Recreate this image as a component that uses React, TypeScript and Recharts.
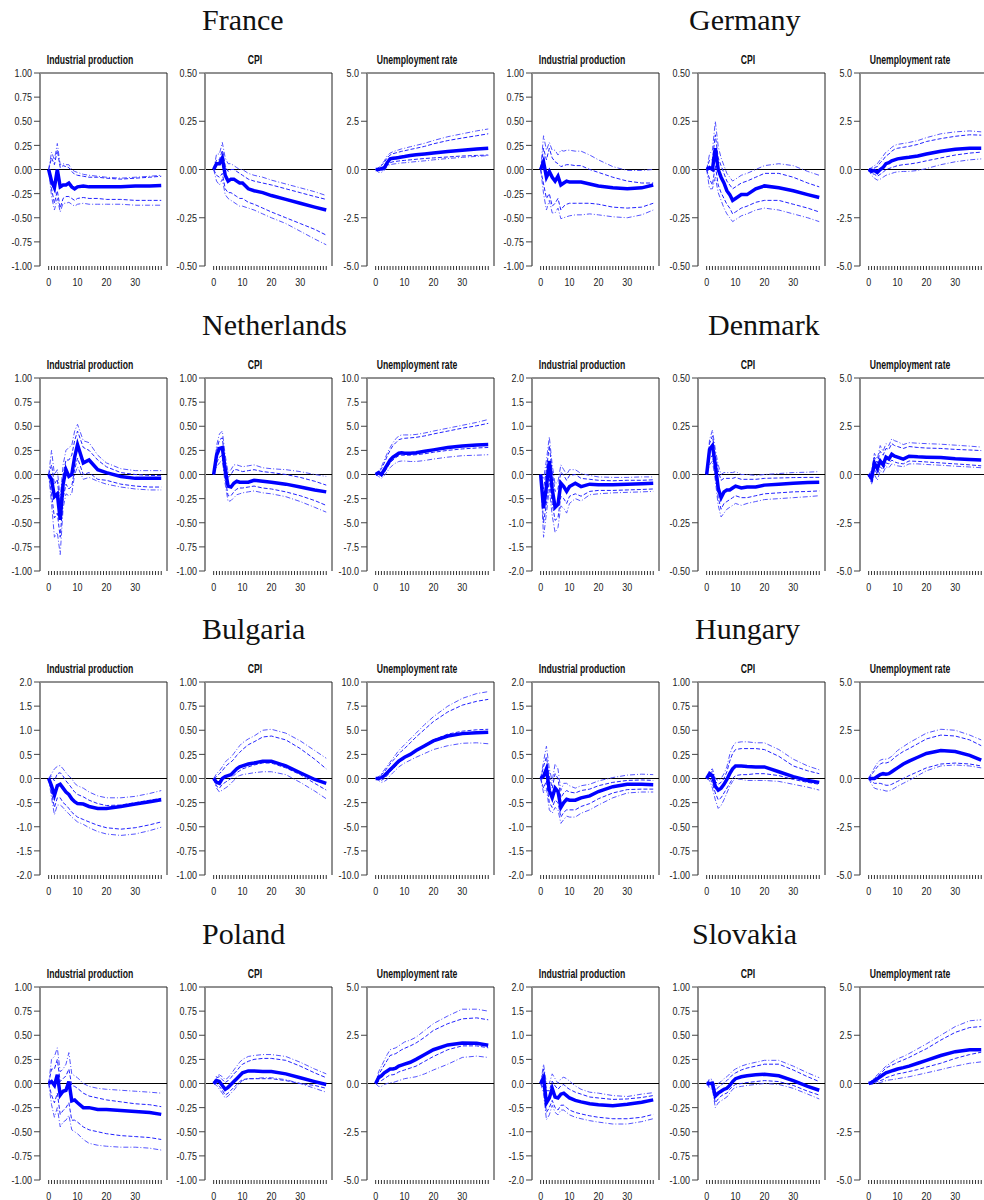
import { LineChart, Line, XAxis, YAxis, ReferenceLine } from "recharts";

const H = [0, 1, 2, 3, 4, 5, 6, 7, 8, 9, 10, 12, 14, 17, 20, 25, 30, 35, 39];
const X_TICKS = [0, 1, 2, 3, 4, 5, 6, 7, 8, 9, 10, 11, 12, 13, 14, 15, 16, 17, 18, 19, 20, 21, 22, 23, 24, 25, 26, 27, 28, 29, 30, 31, 32, 33, 34, 35, 36, 37, 38, 39];

// y tick sets
const T1 = [-1, -0.75, -0.5, -0.25, 0, 0.25, 0.5, 0.75, 1];
const T05 = [-0.5, -0.25, 0, 0.25, 0.5];
const T2 = [-2, -1.5, -1, -0.5, 0, 0.5, 1, 1.5, 2];
const T5 = [-5, -2.5, 0, 2.5, 5];
const T10 = [-10, -7.5, -5, -2.5, 0, 2.5, 5, 7.5, 10];

const PANEL_TITLES = ["Industrial production", "CPI", "Unemployment rate"];

// mid = point response, dU/dL = dashed band, oU/oL = dash-dot band
const FR_IP = {
  mid: [0, -0.12, -0.19, 0.0, -0.18, -0.16, -0.16, -0.14, -0.18, -0.2, -0.18, -0.17, -0.18, -0.18, -0.18, -0.18, -0.17, -0.17, -0.165],
  dU: [0, 0.12, 0.05, 0.2, 0.02, 0.04, 0.03, 0.02, -0.02, -0.05, -0.06, -0.07, -0.08, -0.08, -0.09, -0.1, -0.09, -0.08, -0.07],
  oU: [0, 0.18, 0.1, 0.27, 0.05, 0.06, 0.05, 0.05, 0.0, -0.02, -0.03, -0.05, -0.06, -0.07, -0.08, -0.09, -0.08, -0.07, -0.06],
  dL: [0, -0.2, -0.35, -0.22, -0.4, -0.3, -0.28, -0.28, -0.3, -0.32, -0.3, -0.29, -0.3, -0.3, -0.31, -0.31, -0.32, -0.32, -0.32],
  oL: [0, -0.28, -0.42, -0.3, -0.44, -0.35, -0.35, -0.34, -0.36, -0.38, -0.36, -0.35, -0.36, -0.36, -0.36, -0.36, -0.37, -0.37, -0.37],
};
const FR_CPI = {
  mid: [0, 0.03, 0.03, 0.06, -0.03, -0.06, -0.05, -0.05, -0.06, -0.07, -0.07, -0.1, -0.11, -0.12, -0.135, -0.155, -0.175, -0.195, -0.21],
  dU: [0, 0.05, 0.05, 0.1, 0.02, -0.01, 0.0, 0.0, -0.01, -0.02, -0.03, -0.05, -0.06, -0.07, -0.08, -0.1, -0.12, -0.14, -0.155],
  oU: [0, 0.08, 0.08, 0.14, 0.06, 0.03, 0.03, 0.02, 0.01, 0.0, 0.0, -0.02, -0.03, -0.04, -0.055, -0.075, -0.095, -0.115, -0.135],
  dL: [0, -0.03, -0.04, -0.02, -0.1, -0.12, -0.12, -0.13, -0.14, -0.15, -0.15, -0.17, -0.18, -0.2, -0.22, -0.25, -0.28, -0.31, -0.34],
  oL: [0, -0.06, -0.08, -0.05, -0.13, -0.15, -0.16, -0.17, -0.18, -0.19, -0.19, -0.2, -0.21, -0.23, -0.25, -0.28, -0.32, -0.36, -0.39],
};
const FR_UR = {
  mid: [0, 0.0, 0.05, 0.1, 0.35, 0.55, 0.58, 0.6, 0.62, 0.65, 0.67, 0.72, 0.76, 0.8, 0.85, 0.93, 1.0, 1.06, 1.1],
  dU: [0, 0.08, 0.2, 0.38, 0.6, 0.75, 0.82, 0.86, 0.9, 0.94, 0.97, 1.04, 1.1, 1.2, 1.33, 1.5, 1.63, 1.75, 1.85],
  oU: [0, 0.1, 0.25, 0.45, 0.7, 0.85, 0.92, 0.97, 1.02, 1.07, 1.1, 1.18, 1.25, 1.36, 1.5, 1.7, 1.85, 2.0, 2.1],
  dL: [0, -0.05, -0.05, 0.0, 0.2, 0.35, 0.4, 0.42, 0.44, 0.46, 0.47, 0.5, 0.53, 0.57, 0.6, 0.65, 0.7, 0.73, 0.75],
  oL: [0, -0.15, -0.15, -0.05, 0.15, 0.25, 0.28, 0.3, 0.32, 0.34, 0.35, 0.38, 0.41, 0.45, 0.5, 0.57, 0.63, 0.68, 0.72],
};
const DE_IP = {
  mid: [0, 0.08, -0.08, -0.02, -0.08, -0.12, -0.07, -0.16, -0.14, -0.12, -0.13, -0.13, -0.13, -0.15, -0.17, -0.19, -0.2, -0.19, -0.16],
  dU: [0, 0.22, 0.1, 0.22, 0.12, 0.08, 0.06, 0.03, 0.04, 0.05, 0.05, 0.04, 0.04, 0.0, -0.03, -0.08, -0.12, -0.14, -0.14],
  oU: [0, 0.35, 0.2, 0.28, 0.2, 0.2, 0.15, 0.2, 0.19, 0.2, 0.2, 0.19, 0.19, 0.15, 0.1, 0.03, -0.01, -0.01, 0.0],
  dL: [0, -0.15, -0.3, -0.25, -0.38, -0.35, -0.3, -0.42, -0.38, -0.36, -0.35, -0.35, -0.35, -0.35, -0.36, -0.39, -0.4, -0.39, -0.35],
  oL: [0, -0.25, -0.42, -0.32, -0.45, -0.45, -0.4, -0.51, -0.5, -0.49, -0.48, -0.47, -0.47, -0.46, -0.47, -0.49, -0.5, -0.47, -0.42],
};
const DE_CPI = {
  mid: [0, 0.01, 0.0, 0.11, 0.0, -0.04, -0.07, -0.11, -0.13, -0.16, -0.15, -0.13, -0.13, -0.1, -0.085, -0.095, -0.11, -0.13, -0.145],
  dU: [0, 0.05, 0.05, 0.18, 0.06, 0.02, -0.02, -0.06, -0.08, -0.1, -0.09, -0.07, -0.06, -0.04, -0.02, -0.02, -0.04, -0.07, -0.09],
  oU: [0, 0.08, 0.1, 0.25, 0.12, 0.06, 0.02, -0.02, -0.04, -0.06, -0.05, -0.03, -0.02, 0.0, 0.02, 0.03, 0.02, -0.01, -0.03],
  dL: [0, -0.05, -0.08, 0.02, -0.08, -0.12, -0.15, -0.18, -0.2, -0.23, -0.22, -0.2, -0.19, -0.17, -0.16, -0.16, -0.18, -0.2, -0.22],
  oL: [0, -0.1, -0.1, -0.04, -0.12, -0.16, -0.2, -0.23, -0.25, -0.27, -0.26, -0.24, -0.23, -0.21, -0.2, -0.21, -0.23, -0.25, -0.27],
};
const DE_UR = {
  mid: [0, -0.1, -0.05, -0.15, 0.0, 0.1, 0.3, 0.35, 0.45, 0.5, 0.55, 0.6, 0.63, 0.7, 0.8, 0.95, 1.05, 1.1, 1.1],
  dU: [0, 0.05, 0.1, 0.15, 0.35, 0.5, 0.7, 0.8, 0.95, 1.05, 1.1, 1.15, 1.2, 1.3, 1.45, 1.6, 1.72, 1.8, 1.78],
  oU: [0, 0.1, 0.2, 0.3, 0.5, 0.7, 0.9, 1.0, 1.15, 1.25, 1.3, 1.35, 1.4, 1.5, 1.65, 1.85, 1.95, 2.0, 1.95],
  dL: [0, -0.2, -0.25, -0.35, -0.25, -0.15, 0.0, 0.05, 0.1, 0.15, 0.2, 0.25, 0.28, 0.35, 0.45, 0.6, 0.75, 0.85, 0.9],
  oL: [0, -0.3, -0.45, -0.55, -0.5, -0.4, -0.3, -0.25, -0.2, -0.15, -0.12, -0.1, -0.1, -0.05, 0.05, 0.25, 0.4, 0.5, 0.55],
};
const NL_IP = {
  mid: [0, -0.05, -0.23, -0.2, -0.47, -0.1, 0.05, -0.02, 0.0, 0.18, 0.31, 0.12, 0.15, 0.05, 0.02, -0.02, -0.04, -0.04, -0.04],
  dU: [0, 0.1, -0.1, -0.05, -0.35, 0.0, 0.15, 0.15, 0.2, 0.35, 0.45, 0.28, 0.25, 0.15, 0.08, 0.02, 0.0, -0.01, -0.01],
  oU: [0, 0.25, 0.0, 0.05, -0.25, 0.1, 0.25, 0.28, 0.3, 0.45, 0.52, 0.35, 0.33, 0.2, 0.12, 0.06, 0.04, 0.04, 0.04],
  dL: [0, -0.2, -0.45, -0.4, -0.65, -0.25, -0.1, -0.15, -0.12, 0.05, 0.17, 0.0, 0.02, -0.05, -0.06, -0.1, -0.12, -0.13, -0.13],
  oL: [0, -0.3, -0.65, -0.6, -0.83, -0.35, -0.2, -0.22, -0.2, 0.0, 0.08, -0.05, -0.03, -0.07, -0.1, -0.13, -0.15, -0.16, -0.16],
};
const NL_CPI = {
  mid: [0, 0.2, 0.27, 0.28, 0.05, -0.12, -0.13, -0.09, -0.07, -0.08, -0.08, -0.08, -0.06, -0.07, -0.08, -0.1, -0.13, -0.16, -0.18],
  dU: [0, 0.25, 0.36, 0.38, 0.12, -0.03, 0.0, 0.05, 0.05, 0.04, 0.03, 0.04, 0.05, 0.03, 0.02, 0.0, -0.03, -0.07, -0.11],
  oU: [0, 0.3, 0.42, 0.45, 0.2, 0.02, 0.05, 0.1, 0.1, 0.09, 0.08, 0.09, 0.1, 0.07, 0.06, 0.05, 0.03, 0.0, -0.02],
  dL: [0, 0.12, 0.18, 0.2, -0.05, -0.22, -0.22, -0.18, -0.15, -0.14, -0.14, -0.13, -0.12, -0.14, -0.15, -0.18, -0.22, -0.27, -0.32],
  oL: [0, 0.08, 0.12, 0.15, -0.1, -0.28, -0.27, -0.24, -0.21, -0.2, -0.19, -0.18, -0.17, -0.19, -0.2, -0.23, -0.28, -0.34, -0.39],
};
const NL_UR = {
  mid: [0, 0.2, 0.0, 0.5, 1.0, 1.5, 1.8, 2.0, 2.2, 2.25, 2.2, 2.2, 2.25, 2.4, 2.55, 2.8, 2.95, 3.05, 3.1],
  dU: [0, 0.2, 0.6, 1.2, 1.9, 2.5, 3.0, 3.3, 3.6, 3.7, 3.75, 3.8, 3.85, 4.0, 4.2, 4.5, 4.8, 5.05, 5.3],
  oU: [0, 0.3, 0.8, 1.5, 2.2, 2.8, 3.3, 3.7, 4.0, 4.1, 4.1, 4.1, 4.15, 4.3, 4.5, 4.8, 5.1, 5.4, 5.7],
  dL: [0, 0.0, -0.2, 0.2, 0.7, 1.2, 1.5, 1.75, 1.95, 2.0, 2.0, 2.0, 2.05, 2.15, 2.3, 2.5, 2.65, 2.75, 2.8],
  oL: [0, -0.2, -0.4, -0.1, 0.3, 0.7, 1.0, 1.2, 1.35, 1.4, 1.4, 1.35, 1.35, 1.45, 1.6, 1.8, 1.95, 2.0, 2.05],
};
const DK_IP = {
  mid: [0, -0.7, -0.25, 0.28, -0.3, -0.68, -0.62, -0.18, -0.25, -0.35, -0.25, -0.18, -0.25, -0.2, -0.21, -0.21, -0.2, -0.19, -0.18],
  dU: [0, -0.3, 0.1, 0.6, 0.05, -0.35, -0.3, 0.05, -0.02, -0.12, -0.02, 0.0, -0.08, -0.1, -0.12, -0.13, -0.12, -0.12, -0.11],
  oU: [0, -0.1, 0.3, 0.78, 0.2, -0.2, -0.15, 0.2, 0.1, 0.0, 0.1, 0.1, 0.02, -0.02, -0.05, -0.06, -0.06, -0.05, -0.05],
  dL: [0, -1.0, -0.6, -0.1, -0.6, -0.95, -0.9, -0.45, -0.5, -0.6, -0.45, -0.4, -0.45, -0.35, -0.33, -0.33, -0.32, -0.31, -0.3],
  oL: [0, -1.3, -0.8, -0.3, -0.85, -1.2, -1.1, -0.65, -0.7, -0.8, -0.6, -0.5, -0.55, -0.42, -0.4, -0.38, -0.37, -0.36, -0.35],
};
const DK_CPI = {
  mid: [0, 0.13, 0.15, 0.05, -0.07, -0.12, -0.09, -0.08, -0.08, -0.07, -0.06, -0.07, -0.065, -0.065, -0.055, -0.05, -0.045, -0.042, -0.04],
  dU: [0, 0.16, 0.2, 0.1, 0.02, -0.03, -0.02, -0.02, -0.02, -0.02, -0.015, -0.025, -0.025, -0.025, -0.02, -0.018, -0.016, -0.015, -0.015],
  oU: [0, 0.18, 0.23, 0.13, 0.05, 0.0, 0.01, 0.01, 0.01, 0.01, 0.015, 0.0, 0.0, -0.005, 0.0, 0.005, 0.01, 0.012, 0.015],
  dL: [0, 0.08, 0.1, 0.0, -0.12, -0.18, -0.15, -0.14, -0.13, -0.12, -0.11, -0.12, -0.12, -0.11, -0.1, -0.095, -0.09, -0.088, -0.085],
  oL: [0, 0.05, 0.07, -0.03, -0.16, -0.22, -0.2, -0.18, -0.17, -0.16, -0.15, -0.16, -0.15, -0.14, -0.13, -0.125, -0.12, -0.115, -0.11],
};
const DK_UR = {
  mid: [0, -0.2, 0.6, 0.3, 0.7, 0.5, 0.9, 0.8, 1.05, 0.95, 0.9, 0.8, 0.95, 0.92, 0.9, 0.88, 0.82, 0.78, 0.75],
  dU: [0, 0.05, 0.9, 0.6, 1.2, 1.0, 1.35, 1.3, 1.6, 1.5, 1.45, 1.35, 1.45, 1.4, 1.37, 1.35, 1.3, 1.27, 1.24],
  oU: [0, 0.2, 1.1, 0.8, 1.5, 1.2, 1.6, 1.5, 1.85, 1.75, 1.7, 1.55, 1.65, 1.62, 1.6, 1.57, 1.52, 1.47, 1.42],
  dL: [0, -0.4, 0.3, 0.0, 0.4, 0.25, 0.6, 0.55, 0.75, 0.65, 0.6, 0.55, 0.7, 0.68, 0.65, 0.6, 0.55, 0.5, 0.45],
  oL: [0, -0.5, 0.0, -0.3, 0.2, 0.1, 0.4, 0.35, 0.55, 0.5, 0.45, 0.4, 0.55, 0.55, 0.52, 0.48, 0.43, 0.39, 0.35],
};
const BG_IP = {
  mid: [0, -0.15, -0.35, -0.15, -0.12, -0.2, -0.28, -0.33, -0.42, -0.48, -0.52, -0.53, -0.58, -0.62, -0.62, -0.58, -0.53, -0.48, -0.44],
  dU: [0, 0.05, -0.05, 0.1, 0.12, 0.05, -0.05, -0.12, -0.2, -0.28, -0.33, -0.38, -0.45, -0.52, -0.56, -0.55, -0.5, -0.45, -0.41],
  oU: [0, 0.1, 0.2, 0.25, 0.27, 0.2, 0.12, 0.05, 0.0, -0.1, -0.15, -0.2, -0.28, -0.36, -0.4, -0.4, -0.37, -0.31, -0.25],
  dL: [0, -0.3, -0.6, -0.4, -0.4, -0.5, -0.55, -0.62, -0.7, -0.75, -0.8, -0.85, -0.9, -0.97, -1.02, -1.05, -1.02, -0.96, -0.9],
  oL: [0, -0.4, -0.75, -0.55, -0.55, -0.6, -0.68, -0.73, -0.8, -0.85, -0.9, -0.95, -1.02, -1.1, -1.15, -1.18, -1.15, -1.08, -1.01],
};
const BG_CPI = {
  mid: [0, -0.04, -0.05, 0.0, 0.02, 0.03, 0.04, 0.07, 0.1, 0.12, 0.13, 0.15, 0.16, 0.18, 0.18, 0.13, 0.06, -0.01, -0.05],
  dU: [0, 0.02, 0.05, 0.08, 0.12, 0.15, 0.17, 0.2, 0.24, 0.27, 0.3, 0.35, 0.38, 0.43, 0.44, 0.4, 0.31, 0.2, 0.1],
  oU: [0, 0.05, 0.08, 0.12, 0.17, 0.2, 0.22, 0.26, 0.3, 0.34, 0.37, 0.41, 0.44, 0.5, 0.51, 0.47, 0.39, 0.29, 0.21],
  dL: [0, -0.08, -0.1, -0.06, -0.04, -0.02, 0.0, 0.03, 0.06, 0.08, 0.1, 0.12, 0.14, 0.16, 0.16, 0.11, 0.04, -0.05, -0.12],
  oL: [0, -0.1, -0.14, -0.12, -0.1, -0.08, -0.05, -0.02, 0.02, 0.03, 0.04, 0.05, 0.06, 0.07, 0.07, 0.04, -0.04, -0.13, -0.21],
};
const BG_UR = {
  mid: [0, 0.0, 0.1, 0.3, 0.6, 0.9, 1.2, 1.5, 1.8, 2.0, 2.2, 2.5, 2.9, 3.4, 3.9, 4.4, 4.65, 4.75, 4.8],
  dU: [0, 0.15, 0.4, 0.7, 1.1, 1.5, 1.85, 2.2, 2.55, 2.85, 3.1, 3.7, 4.3, 5.1, 5.9, 6.9, 7.6, 8.0, 8.2],
  oU: [0, 0.2, 0.5, 0.9, 1.3, 1.7, 2.1, 2.5, 2.9, 3.2, 3.5, 4.1, 4.7, 5.6, 6.4, 7.5, 8.3, 8.8, 9.0],
  dL: [0, -0.1, -0.2, 0.0, 0.3, 0.7, 1.0, 1.3, 1.6, 1.9, 2.1, 2.5, 2.9, 3.5, 4.0, 4.6, 4.9, 5.05, 5.1],
  oL: [0, -0.2, -0.4, -0.3, -0.1, 0.3, 0.6, 0.9, 1.2, 1.4, 1.6, 1.9, 2.2, 2.6, 3.0, 3.4, 3.65, 3.7, 3.6],
};
const HU_IP = {
  mid: [0, 0.05, 0.2, -0.25, -0.4, -0.2, -0.27, -0.6, -0.5, -0.43, -0.45, -0.45, -0.4, -0.36, -0.27, -0.17, -0.12, -0.12, -0.13],
  dU: [0, 0.25, 0.45, 0.05, -0.2, 0.1, 0.0, -0.4, -0.3, -0.25, -0.28, -0.3, -0.25, -0.22, -0.15, -0.08, -0.04, -0.03, -0.04],
  oU: [0, 0.35, 0.67, 0.2, -0.05, 0.3, 0.2, -0.25, -0.1, -0.1, -0.15, -0.2, -0.15, -0.12, -0.05, 0.02, 0.07, 0.09, 0.08],
  dL: [0, -0.2, -0.05, -0.5, -0.6, -0.45, -0.5, -0.8, -0.7, -0.65, -0.65, -0.65, -0.58, -0.52, -0.42, -0.3, -0.23, -0.22, -0.22],
  oL: [0, -0.3, -0.2, -0.65, -0.72, -0.6, -0.65, -0.93, -0.85, -0.78, -0.8, -0.8, -0.72, -0.65, -0.55, -0.4, -0.3, -0.28, -0.28],
};
const HU_CPI = {
  mid: [0, 0.05, 0.03, -0.08, -0.12, -0.1, -0.06, -0.01, 0.05, 0.1, 0.13, 0.13, 0.125, 0.12, 0.12, 0.07, 0.02, -0.02, -0.04],
  dU: [0, 0.06, 0.07, -0.03, -0.06, -0.04, 0.0, 0.07, 0.18, 0.26, 0.3, 0.31, 0.31, 0.31, 0.3, 0.23, 0.13, 0.08, 0.05],
  oU: [0, 0.08, 0.1, 0.0, -0.02, 0.0, 0.05, 0.12, 0.25, 0.33, 0.37, 0.38, 0.38, 0.37, 0.37, 0.3, 0.2, 0.13, 0.09],
  dL: [0, 0.02, -0.05, -0.15, -0.22, -0.2, -0.15, -0.1, -0.05, 0.0, 0.03, 0.04, 0.04, 0.05, 0.05, 0.03, -0.01, -0.04, -0.06],
  oL: [0, -0.02, -0.1, -0.22, -0.31, -0.28, -0.22, -0.15, -0.08, -0.03, 0.0, -0.01, -0.02, -0.02, -0.02, -0.03, -0.06, -0.09, -0.12],
};
const HU_UR = {
  mid: [0, 0.0, 0.0, 0.1, 0.2, 0.25, 0.22, 0.25, 0.35, 0.45, 0.55, 0.75, 0.9, 1.1, 1.3, 1.45, 1.4, 1.2, 0.95],
  dU: [0, 0.2, 0.4, 0.6, 0.75, 0.82, 0.8, 0.85, 0.95, 1.1, 1.2, 1.4, 1.55, 1.8, 2.05, 2.25, 2.2, 2.0, 1.7],
  oU: [0, 0.3, 0.55, 0.8, 0.95, 1.0, 1.0, 1.05, 1.15, 1.3, 1.45, 1.65, 1.85, 2.1, 2.35, 2.55, 2.5, 2.25, 2.0],
  dL: [0, -0.15, -0.25, -0.25, -0.25, -0.3, -0.35, -0.35, -0.3, -0.22, -0.15, 0.0, 0.15, 0.35, 0.55, 0.75, 0.8, 0.75, 0.65],
  oL: [0, -0.3, -0.5, -0.55, -0.58, -0.6, -0.65, -0.65, -0.58, -0.5, -0.4, -0.25, -0.1, 0.15, 0.4, 0.65, 0.7, 0.65, 0.55],
};
const PL_IP = {
  mid: [0, 0.02, -0.02, 0.09, -0.12, -0.08, -0.07, 0.02, -0.18, -0.17, -0.2, -0.25, -0.25, -0.27, -0.27, -0.28, -0.29, -0.3, -0.32],
  dU: [0, 0.15, 0.15, 0.25, 0.02, 0.05, 0.08, 0.15, -0.02, -0.03, -0.05, -0.1, -0.13, -0.15, -0.17, -0.19, -0.21, -0.22, -0.24],
  oU: [0, 0.25, 0.28, 0.37, 0.12, 0.15, 0.2, 0.32, 0.1, 0.08, 0.06, 0.0, -0.03, -0.05, -0.06, -0.07, -0.08, -0.09, -0.1],
  dL: [0, -0.12, -0.2, -0.1, -0.32, -0.28, -0.25, -0.2, -0.38, -0.38, -0.4, -0.45, -0.48, -0.5, -0.52, -0.54, -0.55, -0.56, -0.58],
  oL: [0, -0.22, -0.35, -0.25, -0.45, -0.4, -0.38, -0.33, -0.48, -0.5, -0.52, -0.58, -0.62, -0.64, -0.65, -0.66, -0.66, -0.67, -0.69],
};
const PL_CPI = {
  mid: [0, 0.03, 0.02, -0.02, -0.06, -0.04, -0.01, 0.02, 0.05, 0.08, 0.11, 0.13, 0.13, 0.125, 0.125, 0.1, 0.06, 0.02, -0.01],
  dU: [0, 0.06, 0.07, 0.04, 0.01, 0.03, 0.06, 0.1, 0.13, 0.17, 0.2, 0.23, 0.25, 0.26, 0.26, 0.24, 0.18, 0.11, 0.06],
  oU: [0, 0.08, 0.09, 0.07, 0.04, 0.06, 0.1, 0.14, 0.18, 0.22, 0.25, 0.28, 0.29, 0.3, 0.3, 0.28, 0.22, 0.15, 0.1],
  dL: [0, 0.0, -0.03, -0.07, -0.12, -0.1, -0.07, -0.04, -0.01, 0.02, 0.04, 0.05, 0.05, 0.05, 0.05, 0.03, 0.0, -0.02, -0.05],
  oL: [0, -0.02, -0.06, -0.1, -0.15, -0.13, -0.1, -0.07, -0.03, 0.0, 0.03, 0.05, 0.05, 0.06, 0.06, 0.04, 0.0, -0.05, -0.09],
};
const PL_UR = {
  mid: [0, 0.3, 0.4, 0.55, 0.65, 0.75, 0.75, 0.8, 0.9, 0.95, 1.0, 1.1, 1.25, 1.5, 1.75, 2.0, 2.1, 2.08, 1.98],
  dU: [0, 0.45, 0.7, 0.95, 1.2, 1.45, 1.5, 1.55, 1.65, 1.75, 1.82, 1.95, 2.1, 2.4, 2.75, 3.1, 3.35, 3.4, 3.3],
  oU: [0, 0.6, 0.9, 1.2, 1.5, 1.75, 1.8, 1.85, 1.95, 2.05, 2.15, 2.25, 2.4, 2.75, 3.1, 3.5, 3.85, 3.85, 3.75],
  dL: [0, 0.1, 0.15, 0.25, 0.35, 0.45, 0.45, 0.5, 0.6, 0.65, 0.7, 0.8, 0.9, 1.15, 1.4, 1.75, 1.95, 1.95, 1.85],
  oL: [0, -0.15, -0.15, -0.05, 0.0, 0.05, 0.05, 0.1, 0.15, 0.2, 0.25, 0.3, 0.35, 0.5, 0.7, 1.0, 1.35, 1.42, 1.35],
};
const SK_IP = {
  mid: [0, 0.12, -0.4, -0.3, -0.1, -0.28, -0.3, -0.22, -0.2, -0.25, -0.3, -0.35, -0.38, -0.42, -0.44, -0.46, -0.43, -0.39, -0.34],
  dU: [0, 0.3, -0.15, -0.15, 0.05, -0.05, -0.12, -0.05, -0.02, -0.08, -0.12, -0.18, -0.22, -0.28, -0.3, -0.33, -0.32, -0.29, -0.25],
  oU: [0, 0.4, 0.0, 0.0, 0.2, 0.1, 0.0, 0.1, 0.13, 0.1, 0.05, -0.05, -0.12, -0.18, -0.2, -0.25, -0.27, -0.22, -0.19],
  dL: [0, -0.1, -0.6, -0.5, -0.35, -0.5, -0.55, -0.45, -0.45, -0.5, -0.55, -0.6, -0.63, -0.67, -0.7, -0.73, -0.73, -0.7, -0.64],
  oL: [0, -0.2, -0.75, -0.65, -0.45, -0.6, -0.65, -0.55, -0.55, -0.6, -0.65, -0.7, -0.73, -0.77, -0.8, -0.84, -0.84, -0.79, -0.73],
};
const SK_CPI = {
  mid: [0, 0.0, 0.0, -0.13, -0.1, -0.08, -0.06, -0.05, -0.02, 0.02, 0.05, 0.07, 0.08, 0.09, 0.095, 0.08, 0.03, -0.03, -0.07],
  dU: [0, 0.03, 0.02, -0.07, -0.04, -0.02, 0.01, 0.03, 0.06, 0.09, 0.11, 0.14, 0.16, 0.18, 0.2, 0.2, 0.14, 0.07, 0.02],
  oU: [0, 0.05, 0.04, -0.03, 0.0, 0.02, 0.05, 0.07, 0.1, 0.13, 0.15, 0.18, 0.2, 0.22, 0.24, 0.24, 0.18, 0.11, 0.06],
  dL: [0, -0.03, -0.04, -0.2, -0.16, -0.13, -0.11, -0.1, -0.06, -0.03, -0.01, 0.0, 0.01, 0.02, 0.03, 0.02, -0.02, -0.08, -0.12],
  oL: [0, -0.05, -0.06, -0.25, -0.2, -0.18, -0.16, -0.14, -0.1, -0.06, -0.04, -0.03, -0.02, -0.01, 0.0, -0.01, -0.05, -0.11, -0.16],
};
const SK_UR = {
  mid: [0, 0.05, 0.15, 0.25, 0.35, 0.45, 0.55, 0.6, 0.65, 0.7, 0.75, 0.82, 0.9, 1.05, 1.2, 1.45, 1.65, 1.75, 1.75],
  dU: [0, 0.1, 0.25, 0.38, 0.5, 0.65, 0.8, 0.88, 0.95, 1.02, 1.1, 1.22, 1.35, 1.58, 1.8, 2.25, 2.65, 2.9, 2.95],
  oU: [0, 0.15, 0.3, 0.45, 0.6, 0.75, 0.9, 1.0, 1.1, 1.2, 1.28, 1.4, 1.55, 1.8, 2.05, 2.5, 2.95, 3.25, 3.3],
  dL: [0, 0.0, 0.05, 0.1, 0.15, 0.2, 0.3, 0.35, 0.4, 0.45, 0.5, 0.55, 0.62, 0.72, 0.85, 1.05, 1.3, 1.5, 1.62],
  oL: [0, -0.05, 0.0, 0.02, 0.05, 0.1, 0.15, 0.18, 0.2, 0.22, 0.25, 0.3, 0.35, 0.45, 0.55, 0.72, 0.9, 1.05, 1.12],
};

const COUNTRIES = [
  { name: "France", panels: [FR_IP, FR_CPI, FR_UR], ticks: [T1, T05, T5] },
  { name: "Germany", panels: [DE_IP, DE_CPI, DE_UR], ticks: [T1, T05, T5] },
  { name: "Netherlands", panels: [NL_IP, NL_CPI, NL_UR], ticks: [T1, T1, T10] },
  { name: "Denmark", panels: [DK_IP, DK_CPI, DK_UR], ticks: [T2, T05, T5] },
  { name: "Bulgaria", panels: [BG_IP, BG_CPI, BG_UR], ticks: [T2, T1, T10] },
  { name: "Hungary", panels: [HU_IP, HU_CPI, HU_UR], ticks: [T2, T1, T5] },
  { name: "Poland", panels: [PL_IP, PL_CPI, PL_UR], ticks: [T1, T1, T5] },
  { name: "Slovakia", panels: [SK_IP, SK_CPI, SK_UR], ticks: [T2, T1, T5] },
];

// layout
const PLOT_X = [40, 205, 367, 532, 698, 860];
const PLOT_Y = [73, 378, 682, 987];
const PLOT_W = 127;
const PLOT_H = 193;
const TITLE_X = [202, 689, 202, 708, 202, 695, 202, 692];
const SANS = "'Liberation Sans', Arial, sans-serif";
const BLUE = "#0000ff";
const SQUEEZE = 0.78; // narrow-font look

function XTick({ x, y, payload }: any) {
  if (payload.value % 10 !== 0) return null;
  return (
    <text transform={`translate(${x},${y + 14}) scale(${SQUEEZE},1)`} textAnchor="middle" fontSize={11.5} fill="#222" fontFamily={SANS}>
      {payload.value}
    </text>
  );
}

function YTick({ x, y, payload, dec }: any) {
  return (
    <text transform={`translate(${x},${y}) scale(${SQUEEZE},1)`} dy="0.36em" textAnchor="end" fontSize={11.5} fill="#222" fontFamily={SANS}>
      {payload.value.toFixed(dec)}
    </text>
  );
}

function Panel({ left, top, title, series, ticks }: any) {
  const rows = H.map((h, i) => ({ h, mid: series.mid[i], dU: series.dU[i], dL: series.dL[i], oU: series.oU[i], oL: series.oL[i] }));
  const lo = ticks[0];
  const hi = ticks[ticks.length - 1];
  const dec = Math.abs(ticks[1] - ticks[0]) === 0.25 ? 2 : 1;
  return (
    <>
      <div style={{ position: "absolute", left: left - 33, top: top - 19, width: 166, textAlign: "center", fontFamily: SANS, fontWeight: "bold", fontSize: 12, lineHeight: "13px", color: "#111", transform: "scaleX(0.72)" }}>
        {title}
      </div>
      <div style={{ position: "absolute", left: left - 40, top: top - 8 }}>
        <LineChart width={40 + PLOT_W + 3} height={8 + PLOT_H + 27} data={rows} margin={{ top: 8, right: 3, bottom: 0, left: 0 }}>
          <XAxis type="number" dataKey="h" domain={[-3, 41]} ticks={X_TICKS} interval={0} tickSize={4} axisLine={false} tickLine={{ stroke: "#333" }} tick={<XTick />} height={27} allowDataOverflow />
          <YAxis type="number" domain={[lo, hi]} ticks={ticks} interval={0} width={40} tickSize={6} tickMargin={2} axisLine={{ stroke: "#8c8c8c", strokeWidth: 2 }} tickLine={{ stroke: "#444" }} tick={<YTick dec={dec} />} allowDataOverflow />
          <ReferenceLine y={hi} stroke="#222" strokeWidth={1} />
          <ReferenceLine x={41} stroke="#222" strokeWidth={1} />
          <ReferenceLine y={0} stroke="#000" strokeWidth={1} />
          <Line type="linear" dataKey="oU" stroke="#5555ff" strokeWidth={1} strokeDasharray="5 2 1 2" dot={false} isAnimationActive={false} />
          <Line type="linear" dataKey="oL" stroke="#5555ff" strokeWidth={1} strokeDasharray="5 2 1 2" dot={false} isAnimationActive={false} />
          <Line type="linear" dataKey="dU" stroke="#2222ff" strokeWidth={1} strokeDasharray="4 2" dot={false} isAnimationActive={false} />
          <Line type="linear" dataKey="dL" stroke="#2222ff" strokeWidth={1} strokeDasharray="4 2" dot={false} isAnimationActive={false} />
          <Line type="linear" dataKey="mid" stroke={BLUE} strokeWidth={3.5} dot={false} isAnimationActive={false} />
        </LineChart>
      </div>
    </>
  );
}

export default function App() {
  return (
    <div style={{ position: "absolute", left: 0, top: 0, width: 984, height: 1200, background: "#fff" }}>
      {COUNTRIES.map((c, ci) => {
        const row = Math.floor(ci / 2);
        const col = ci % 2;
        const top = PLOT_Y[row];
        return (
          <div key={c.name}>
            <div style={{ position: "absolute", left: TITLE_X[ci], top: top - 68, fontFamily: "'Liberation Serif', 'Times New Roman', serif", fontSize: 30, lineHeight: "30px", color: "#111" }}>
              {c.name}
            </div>
            {c.panels.map((s, pi) => (
              <Panel key={pi} left={PLOT_X[col * 3 + pi]} top={top} title={PANEL_TITLES[pi]} series={s} ticks={c.ticks[pi]} />
            ))}
          </div>
        );
      })}
    </div>
  );
}
